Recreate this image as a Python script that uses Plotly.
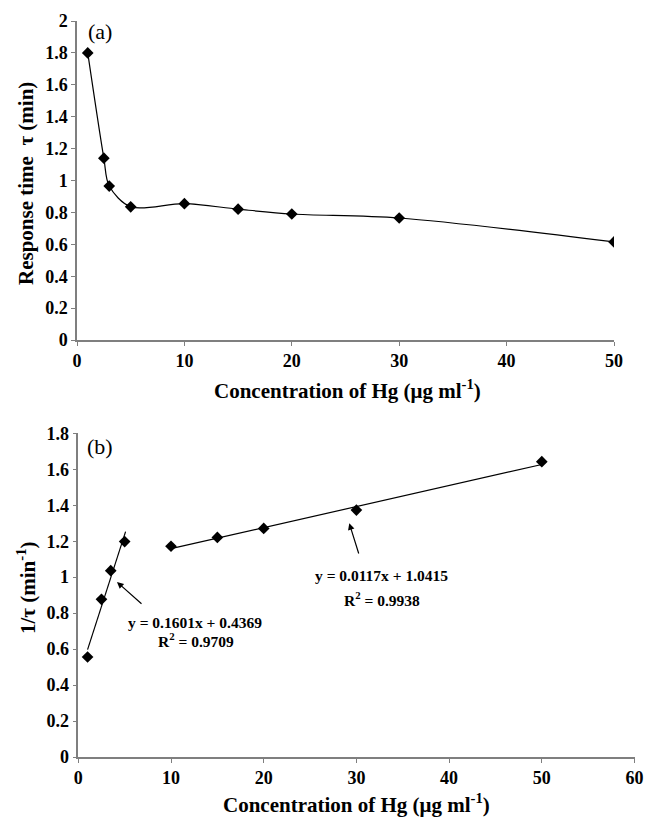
import plotly.graph_objects as go

W, H = 648, 818

# Panel (a) data
conc_a = [1, 2.5, 3, 5, 10, 15, 20, 30, 50]
tau_a = [1.80, 1.14, 0.965, 0.835, 0.855, 0.82, 0.79, 0.765, 0.615]

# Panel (b) data
conc_b1 = [1, 2.5, 3.5, 5]
inv_b1 = [0.556, 0.877, 1.036, 1.198]
conc_b2 = [10, 15, 20, 30, 50]
inv_b2 = [1.172, 1.221, 1.271, 1.373, 1.642]

# Linear fits (from the figure)
fit1 = dict(slope=0.1601, intercept=0.4369, x=[1, 5.1])
fit2 = dict(slope=0.0117, intercept=1.0415, x=[10, 50])

# Tick values / labels
xt_a = [0, 10, 20, 30, 40, 50]
yt_a = [0, 0.2, 0.4, 0.6, 0.8, 1, 1.2, 1.4, 1.6, 1.8, 2]
xt_b = [0, 10, 20, 30, 40, 50, 60]
yt_b = [0, 0.2, 0.4, 0.6, 0.8, 1, 1.2, 1.4, 1.6, 1.8]

FONT = "Liberation Serif"
AX = "#7f7f7f"


def px(x):
    return x / W


def py(y):
    return 1 - y / H


def lab(vals):
    return ["<b>%g</b>" % v for v in vals]


fig = go.Figure()

mk = dict(symbol="diamond", size=9, color="black")

fig.add_trace(go.Scatter(x=conc_a, y=tau_a, mode="lines+markers",
                         line=dict(color="black", width=1.2, shape="spline", smoothing=0.9),
                         marker=mk, xaxis="x", yaxis="y", showlegend=False))

fig.add_trace(go.Scatter(x=conc_b1, y=inv_b1, mode="markers", marker=mk,
                         xaxis="x2", yaxis="y2", showlegend=False))
fig.add_trace(go.Scatter(x=conc_b2, y=inv_b2, mode="markers", marker=mk,
                         xaxis="x2", yaxis="y2", showlegend=False))

for f in (fit1, fit2):
    fig.add_trace(go.Scatter(x=f["x"], y=[f["slope"] * v + f["intercept"] for v in f["x"]],
                             mode="lines", line=dict(color="black", width=1.2),
                             xaxis="x2", yaxis="y2", showlegend=False))


def axis(ticks, **kw):
    d = dict(showline=True, linecolor=AX, linewidth=1.5, ticks="outside", ticklen=4,
             tickcolor=AX, tickwidth=1.2, showgrid=False, zeroline=False,
             tickmode="array", tickvals=ticks, ticktext=lab(ticks),
             tickfont=dict(family=FONT, size=18, color="black", weight="bold"))
    d.update(kw)
    return d


fig.update_layout(
    width=W, height=H, margin=dict(l=0, r=0, t=0, b=0, autoexpand=False),
    paper_bgcolor="white", plot_bgcolor="white",
    font=dict(family=FONT, size=18, color="black", weight="bold"),
    xaxis=axis(xt_a, domain=[px(77), px(614)], range=[0, 50], anchor="y"),
    yaxis=axis(yt_a, domain=[py(340), py(21)], range=[0, 2], anchor="x"),
    xaxis2=axis(xt_b, domain=[px(78.3), px(634.5)], range=[0, 60], anchor="y2"),
    yaxis2=axis(yt_b, domain=[py(757), py(433.3)], range=[0, 1.8], anchor="x2"),
)

titlefont = dict(family=FONT, size=21, color="black", weight="bold")
eqfont = dict(family=FONT, size=15.5, color="black", weight="bold")
labfont = dict(family=FONT, size=22, color="black", weight="normal")

ann = [
    dict(text="Concentration of Hg (μg ml<sup>-1</sup>)", x=px(347), y=py(389), font=titlefont),
    dict(text="Concentration of Hg (μg ml<sup>-1</sup>)", x=px(356), y=py(803), font=titlefont),
    dict(text="Response time  τ (min)", x=px(26), y=py(184), font=titlefont, textangle=-90),
    dict(text="1/τ (min<sup>-1</sup>)", x=px(26), y=py(588), font=titlefont, textangle=-90),
    dict(text="(a)", x=px(100), y=py(32), font=labfont),
    dict(text="(b)", x=px(100), y=py(446), font=labfont),
    dict(text="y = 0.1601x + 0.4369", x=px(195), y=py(622), font=eqfont),
    dict(text="R<sup>2</sup> = 0.9709", x=px(196), y=py(640), font=eqfont),
    dict(text="y = 0.0117x + 1.0415", x=px(382), y=py(575), font=eqfont),
    dict(text="R<sup>2</sup> = 0.9938", x=px(382), y=py(599), font=eqfont),
]
annotations = []
for a in ann:
    d = dict(xref="paper", yref="paper", showarrow=False, xanchor="center", yanchor="middle")
    d.update(a)
    annotations.append(d)

# arrows (head at x,y; tail at ax,ay) in data coords of panel (b)
arrows = [((4.17, 0.973), (6.98, 0.845)), ((29.23, 1.30), (30.3, 1.123))]
for (hx, hy), (tx, ty) in arrows:
    annotations.append(dict(x=hx, y=hy, ax=tx, ay=ty, xref="x2", yref="y2", axref="x2", ayref="y2",
                            showarrow=True, arrowhead=2, arrowsize=1.1, arrowwidth=1.2,
                            arrowcolor="black", text=""))

fig.update_layout(annotations=annotations)

fig.write_html("out.html", config={"displayModeBar": False},
               post_script="document.body.style.margin='0px';document.body.style.overflow='hidden';")
